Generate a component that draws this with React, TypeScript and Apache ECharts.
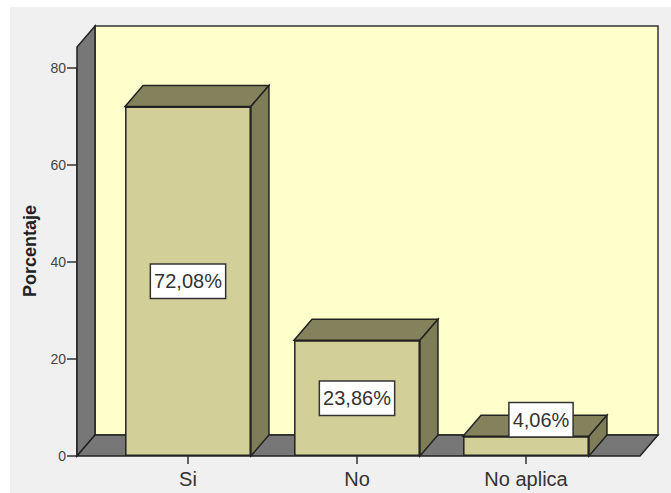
import React, { useEffect, useRef } from "react";
import * as echarts from "echarts";

const categories: string[] = ["Si", "No", "No aplica"];
const percentages: number[] = [72.08, 23.86, 4.06];
const yMin = 0;
const yMax = 80;
const yInterval = 20;
const yAxisTitle = "Porcentaje";

const FONT = "'Liberation Sans', Arial, sans-serif";
const DX = 18;
const DY = 21;

const fmt = (v: number) => v.toFixed(2).replace(".", ",") + "%";

export default function App() {
  const ref = useRef<HTMLDivElement>(null);

  useEffect(() => {
    if (!ref.current) return;
    const chart = echarts.init(ref.current, undefined, { renderer: "svg" });

    const barRatio = 0.745;

    const option: any = {
      animation: false,
      backgroundColor: "#f0f0f0",
      textStyle: { fontFamily: FONT },
      grid: { left: 93.5, right: 60.5, top: 61, bottom: 37, containLabel: false },
      xAxis: {
        type: "category",
        data: categories,
        axisLine: { show: false },
        axisTick: { show: true, alignWithLabel: true, length: 8, lineStyle: { color: "#333", width: 1.5 } },
        axisLabel: { fontSize: 20, color: "#333", margin: 13, fontFamily: FONT },
        splitLine: { show: false },
      },
      yAxis: {
        type: "value",
        min: yMin,
        max: yMax,
        interval: yInterval,
        offset: 26.5,
        axisLine: { show: true, lineStyle: { color: "#222", width: 1.5 } },
        axisTick: { show: true, length: 10, lineStyle: { color: "#333", width: 1.5 } },
        axisLabel: { fontSize: 14, color: "#444", margin: 11, fontFamily: FONT },
        splitLine: { show: false },
      },
      graphic: [
        {
          type: "text",
          x: 20,
          y: 244,
          rotation: Math.PI / 2,
          style: {
            text: yAxisTitle,
            fontSize: 18,
            fontWeight: "bold",
            fontFamily: FONT,
            fill: "#222",
            align: "center",
            verticalAlign: "middle",
          },
          z: 10,
        },
      ],
      series: [
        {
          type: "custom",
          name: "walls",
          z: 1,
          silent: true,
          data: [[0, 0]],
          encode: { x: 0, y: 1 },
          renderItem: (params: any) => {
            const cs = params.coordSys;
            const L = cs.x - 26.5;
            const R = cs.x + cs.width + 29.5;
            const B = cs.y + cs.height;
            const T = cs.y - 21;
            return {
              type: "group",
              children: [
                {
                  type: "rect",
                  shape: { x: L + DX, y: T - DY, width: R - L, height: B - T },
                  style: { fill: "#ffffcc", stroke: "#333", lineWidth: 1.5 },
                },
                {
                  type: "polygon",
                  shape: { points: [[L, B], [L, T], [L + DX, T - DY], [L + DX, B - DY]] },
                  style: { fill: "#777777", stroke: "#222", lineWidth: 1.5 },
                },
                {
                  type: "polygon",
                  shape: { points: [[L, B], [R, B], [R + DX, B - DY], [L + DX, B - DY]] },
                  style: { fill: "#777777", stroke: "#222", lineWidth: 1.5 },
                },
              ],
            };
          },
        },
        {
          type: "custom",
          name: "faces",
          z: 2,
          silent: true,
          data: percentages.map((v, i) => [i, v]),
          encode: { x: 0, y: 1 },
          renderItem: (params: any, api: any) => {
            const i = api.value(0);
            const v = api.value(1);
            const top = api.coord([i, v]);
            const base = api.coord([i, 0]);
            const bw = api.size([1, 0])[0] * barRatio;
            const l = top[0] - bw / 2;
            const r = top[0] + bw / 2;
            const ty = top[1];
            const by = base[1];
            return {
              type: "group",
              children: [
                {
                  type: "polygon",
                  shape: { points: [[l, ty], [l + DX, ty - DY], [r + DX, ty - DY], [r, ty]] },
                  style: { fill: "#84825c", stroke: "#222", lineWidth: 1.5 },
                },
                {
                  type: "polygon",
                  shape: { points: [[r, ty], [r + DX, ty - DY], [r + DX, by - DY], [r, by]] },
                  style: { fill: "#7f7d57", stroke: "#222", lineWidth: 1.5 },
                },
              ],
            };
          },
        },
        {
          type: "bar",
          name: "Porcentaje",
          z: 3,
          barWidth: barRatio * 100 + "%",
          itemStyle: { color: "#d3cf98", borderColor: "#222", borderWidth: 1.5 },
          label: {
            show: true,
            position: "inside",
            formatter: (p: any) => fmt(p.value),
            fontSize: 20,
            fontFamily: FONT,
            color: "#333",
            backgroundColor: "#ffffff",
            borderColor: "#333",
            borderWidth: 1.5,
            padding: [7, 3, 6, 3],
          },
          data: percentages.map((v) =>
            v < 10
              ? { value: v, label: { position: "top", distance: 0, offset: [15, 0] } }
              : { value: v }
          ),
        },
      ],
    };

    chart.setOption(option);
    return () => chart.dispose();
  }, []);

  return (
    <div style={{ position: "fixed", left: 0, top: 0, width: 671, height: 493, background: "#ffffff" }}>
      <div ref={ref} style={{ position: "absolute", left: 10, top: 7, width: 661, height: 486 }} />
    </div>
  );
}
